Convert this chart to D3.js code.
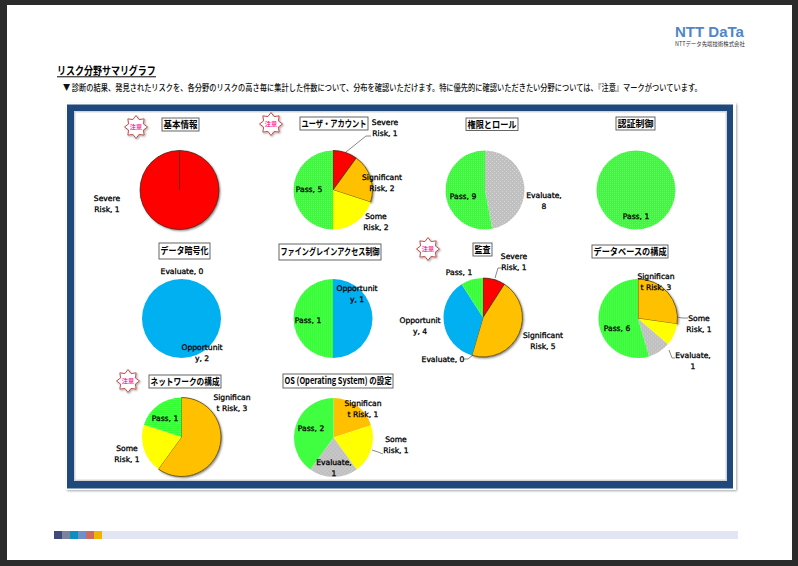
<!DOCTYPE html>
<html lang="ja">
<head>
<meta charset="utf-8">
<script src="https://cdn.jsdelivr.net/npm/d3@7"></script>
<style>
  html, body { margin: 0; padding: 0; background: #2b2b2b; }
  svg { display: block; }
  .jp { font-family: "Noto Sans CJK JP", sans-serif; }
  .lbl { font-family: "DejaVu Sans", sans-serif; font-size: 7.6px; fill: #000; stroke: #000; stroke-width: .3px; text-anchor: middle; }
</style>
</head>
<body>
<div id="chart"></div>
<script>
const categories = ['Severe Risk', 'Significant Risk', 'Some Risk', 'Opportunity', 'Evaluate', 'Pass']
const titles = ['基本情報', 'ユーザ・アカウント', '権限とロール', '認証制御', 'データ暗号化',
  'ファイングレインアクセス制御', '監査', 'データベースの構成', 'ネットワークの構成', 'OS (Operating System) の設定']

// counts per panel, same order as categories. null = no label in the chart
const basicInfo = [1, null, null, null, null, null]
const userAccount = [1, 2, 2, null, null, 5]
const rolePrivilege = [null, null, null, null, 8, 9]
const authControl = [null, null, null, null, null, 1]
const encryption = [null, null, null, 2, 0, null]
const fineGrained = [null, null, null, 1, null, 1]
const audit = [1, 5, null, 4, 0, 1]
const database = [null, 3, 1, null, 1, 6]
const network = [null, 3, 1, null, null, 1]
const osSettings = [null, 1, 1, null, 1, 2]
const panelValues = [basicInfo, userAccount, rolePrivilege, authControl, encryption,
  fineGrained, audit, database, network, osSettings]

const mainTitle = 'リスク分野サマリグラフ'
const subTitle = '▼ 診断の結果、発見されたリスクを、各分野のリスクの高さ毎に集計した件数について、分布を確認いただけます。特に優先的に確認いただきたい分野については、『注意』マークがついています。'
const cautionText = '注意'
const logoText = 'NTT DaTa'
const logoSub = 'NTTデータ先端技術株式会社'

// layout below here
const width = 798
const height = 566
const colors = ['#ff0000', '#ffc000', '#ffff00', '#00b0f0', 'url(#dotGrey)', 'url(#dotGreen)']
const footerColors = ['#3f4a7a', '#7d829f', '#0a8fc0', '#6f8fc9', '#cb6a60', '#f0b400']

const pieCenters = [[179.5, 190], [333, 190], [485, 190], [636, 190], [181.5, 318.5],
  [333, 318.5], [483, 317.5], [638, 318.5], [181.5, 437], [333.5, 437.5]]
const titleBoxes = [[162, 118, 37, 13], [300, 117, 68, 13], [466, 118, 52, 12.5], [616, 117, 39, 13],
  [159, 243, 51, 16], [279, 244, 102, 16], [473, 243, 19, 13], [592, 245, 76, 13],
  [149, 375, 72, 13], [283, 374, 110, 14]]
const stars = [[136, 127], [271, 124], [428, 249], [128, 381]]
const shadowed = [0, 1, 6, 7, 8]

// per panel: category index -> [centre x, first line y, wrap chars]
const labelPos = [
  { 0: [107, 198, 10] },
  { 0: [385, 122, 10], 1: [382, 177, 11], 2: [376, 216, 9], 5: [309, 189, 11] },
  { 4: [544, 195, 10], 5: [463, 196, 11] },
  { 5: [636, 216, 11] },
  { 3: [202, 347, 10], 4: [182, 271, 11] },
  { 3: [357, 288, 10], 5: [308, 320, 11] },
  { 0: [514, 256, 10], 1: [543, 335, 11], 3: [420, 320, 10], 4: [443, 359, 11], 5: [459, 272, 11] },
  { 1: [656, 276, 10], 2: [699, 318, 9], 4: [693, 355, 10], 5: [617, 328, 11] },
  { 1: [232, 397, 10], 2: [127, 448, 9], 5: [165, 418, 11] },
  { 1: [363, 403, 10], 2: [396, 439, 9], 4: [334, 462, 10], 5: [311, 428, 11] }
]
const leaders = [
  [[346, 152], [366, 136], [371, 136]],
  [[495, 278], [498, 268], [502, 268]],
  [[463, 359], [468, 359], [473, 355]],
  [[677, 317], [682, 318], [688, 318]],
  [[669, 350], [672, 358], [675, 358]],
  [[372, 450], [378, 452], [383, 454]]
]

const svg = d3.select('#chart').append('svg').attr('width', width).attr('height', height)
const defs = svg.append('defs')

const green = defs.append('pattern').attr('id', 'dotGreen').attr('width', 2).attr('height', 2)
  .attr('patternUnits', 'userSpaceOnUse')
green.append('rect').attr('width', 2).attr('height', 2).attr('fill', '#33ff33')
green.append('rect').attr('width', 1).attr('height', 1).attr('fill', '#66ff66')

const grey = defs.append('pattern').attr('id', 'dotGrey').attr('width', 4).attr('height', 4)
  .attr('patternUnits', 'userSpaceOnUse')
grey.append('rect').attr('width', 4).attr('height', 4).attr('fill', '#c0c0c0')
grey.append('rect').attr('x', 1).attr('y', 1).attr('width', 1).attr('height', 1).attr('fill', '#d8d8d8')
grey.append('rect').attr('x', 3).attr('y', 3).attr('width', 1).attr('height', 1).attr('fill', '#d8d8d8')

const addShadow = (id, dx, dy, blur, alpha) => {
  const f = defs.append('filter').attr('id', id)
    .attr('x', '-30%').attr('y', '-30%').attr('width', '170%').attr('height', '170%')
  f.append('feDropShadow').attr('dx', dx).attr('dy', dy).attr('stdDeviation', blur)
    .attr('flood-color', '#000').attr('flood-opacity', alpha)
}
addShadow('pieShadow', 1.2, 1.2, 0.9, 0.55)
addShadow('soft', 1, 1, 1, 0.35)

// squeeze a text into a given width, the page was scanned with narrow glyphs
const fitText = (sel, x, y, w) => {
  const natural = sel.node().getComputedTextLength()
  sel.attr('transform', `translate(${x},${y}) scale(${w / natural},1)`)
}

// page
svg.append('rect').attr('x', 7).attr('y', 5).attr('width', 785).attr('height', 555).attr('fill', '#fff')

// header
svg.append('text').attr('class', 'jp').attr('font-size', 11).attr('font-weight', 700)
  .text(mainTitle).call(fitText, 57, 75, 99)
svg.append('rect').attr('x', 57).attr('y', 76.2).attr('width', 99).attr('height', 0.9).attr('fill', '#222')
svg.append('rect').attr('x', 57).attr('y', 77).attr('width', 99).attr('height', 0.8).attr('fill', '#aaa')
svg.append('text').attr('class', 'jp').attr('font-size', 8.6).attr('font-weight', 500)
  .attr('fill', '#111').text(subTitle).call(fitText, 63, 90.5, 639)

svg.append('text').attr('font-family', '"Liberation Sans", sans-serif').attr('font-size', 14.5)
  .attr('font-weight', 700).attr('fill', '#4f86c6').text(logoText).call(fitText, 675, 36.5, 69)
svg.append('text').attr('class', 'jp').attr('font-size', 5.6).attr('fill', '#333')
  .text(logoSub).call(fitText, 675, 46, 70)

// frame
svg.append('rect').attr('x', 66).attr('y', 103).attr('width', 670).attr('height', 387)
  .attr('fill', '#fff').attr('filter', 'url(#soft)')
svg.append('rect').attr('x', 67).attr('y', 104.5).attr('width', 666).attr('height', 384).attr('fill', '#1f497d')
svg.append('rect').attr('x', 74).attr('y', 111).attr('width', 653).attr('height', 370).attr('fill', '#d4d4d4')
svg.append('rect').attr('x', 75.5).attr('y', 112.5).attr('width', 650).attr('height', 367).attr('fill', '#fff')

// pies
const pie = d3.pie().sort(null).value(d => d.value)
const arc = d3.arc().innerRadius(0).outerRadius(39.5)

panelValues.forEach((values, p) => {
  const rows = values.map((value, c) => ({ value, c })).filter(d => d.value !== null)
  const g = svg.append('g').attr('transform', `translate(${pieCenters[p]})`)
  const slices = pie(rows).filter(d => d.value > 0)
  const outlined = d => shadowed.includes(p) && d.data.c < 2

  g.selectAll('path.back')
    .data(slices.filter(outlined))
    .join('path')
    .attr('class', 'back')
    .attr('d', arc)
    .attr('fill', d => colors[d.data.c])
    .attr('filter', 'url(#pieShadow)')

  g.selectAll('path.slice')
    .data(slices)
    .join('path')
    .attr('class', 'slice')
    .attr('d', arc)
    .attr('fill', d => colors[d.data.c])
    .attr('stroke', d => outlined(d) ? '#3a3020' : 'none')
    .attr('stroke-width', 0.7)

  // a full circle has no radius of its own
  if (slices.length === 1 && outlined(slices[0])) {
    g.append('line').attr('y2', -39.5).attr('stroke', '#3a3020').attr('stroke-width', 0.7)
  }
})

// leader lines
const leaderLine = d3.line()
svg.selectAll('path.leader')
  .data(leaders)
  .join('path')
  .attr('class', 'leader')
  .attr('d', leaderLine)
  .attr('fill', 'none')
  .attr('stroke', '#555')
  .attr('stroke-width', 0.7)

// data labels, wrapped by characters like the original renderer
const wrap = (str, max) => {
  const lines = []
  let cur = ''
  str.split(' ').forEach(word => {
    if (cur && (cur + ' ' + word).length > max) { lines.push(cur); cur = '' }
    cur = cur ? cur + ' ' + word : word
    while (cur.length > max) {
      lines.push(cur.slice(0, max))
      cur = cur.slice(max)
    }
  })
  if (cur) lines.push(cur)
  return lines
}

panelValues.forEach((values, p) => {
  Object.entries(labelPos[p]).forEach(([c, [x, y, max]]) => {
    const lines = wrap(`${categories[c]}, ${values[c]}`, max)
    const text = svg.append('text').attr('class', 'lbl')
    lines.forEach((line, i) => {
      text.append('tspan').attr('x', x).attr('y', y + 2.8 + i * 11.5).text(line)
    })
  })
})

// panel titles
titles.forEach((title, i) => {
  const [x, y, w, h] = titleBoxes[i]
  svg.append('rect').attr('x', x).attr('y', y).attr('width', w).attr('height', h)
    .attr('fill', '#fff').attr('stroke', '#555').attr('stroke-width', 0.9)
  svg.append('text').attr('class', 'jp').attr('font-size', 9.4).attr('font-weight', 700)
    .text(title).call(fitText, x + 1.5, y + h / 2 + 3.4, w - 3)
})

// caution stars
const starPoints = d3.range(16).map(i => [i * Math.PI / 8, i % 2 ? 8 : 11.5])
const starLine = d3.lineRadial().curve(d3.curveLinearClosed)
stars.forEach(([x, y]) => {
  const g = svg.append('g').attr('transform', `translate(${x},${y})`)
  g.append('path').attr('d', starLine(starPoints))
    .attr('fill', '#fff').attr('stroke', '#c0504d').attr('stroke-width', 1).attr('filter', 'url(#soft)')
  g.append('text').attr('class', 'jp').attr('text-anchor', 'middle').attr('y', 2.2)
    .attr('font-size', 6.2).attr('font-weight', 700).attr('fill', '#ff3399').text(cautionText)
})

// footer
const footerX = d3.scaleBand().domain(d3.range(footerColors.length)).range([54, 102])
svg.append('rect').attr('x', 54).attr('y', 531).attr('width', 684).attr('height', 8).attr('fill', '#e1e6f2')
svg.selectAll('rect.foot')
  .data(footerColors)
  .join('rect')
  .attr('class', 'foot')
  .attr('x', (d, i) => footerX(i))
  .attr('y', 531)
  .attr('width', footerX.bandwidth())
  .attr('height', 8)
  .attr('fill', d => d)
</script>
</body>
</html>
